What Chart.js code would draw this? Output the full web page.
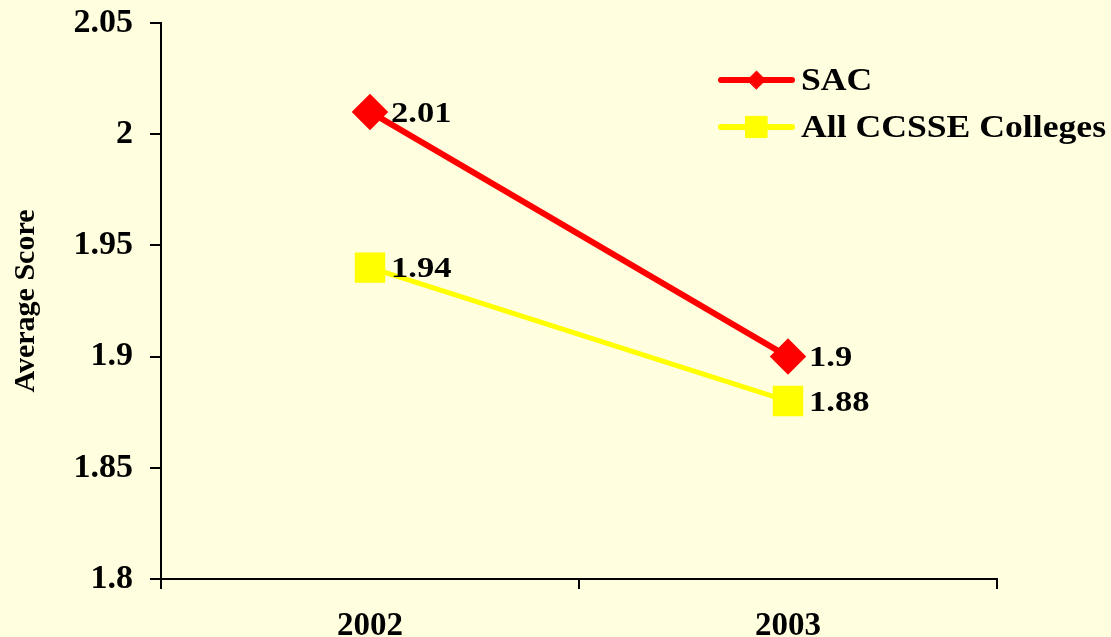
<!DOCTYPE html>
<html>
<head>
<meta charset="utf-8">
<script src="https://cdn.jsdelivr.net/npm/chart.js@4"></script>
<style>
    html, body { margin: 0; padding: 0; background: #FFFFE0; }
    #wrap { width: 1111px; height: 637px; }
</style>
</head>
<body>
<div id="wrap"><canvas id="scoreChart" width="1111" height="637"></canvas></div>
<script>
// chart data
const years = ['2002', '2003'];
const sacScores = [2.01, 1.9];
const ccsseScores = [1.94, 1.88];
const yTicks = [1.8, 1.85, 1.9, 1.95, 2, 2.05];

const serif = '"Liberation Serif", "Times New Roman", serif';
const stretch = 1.15; // the original text is a bit wide

function wideText(ctx, text, x, y) {
    ctx.save();
    ctx.translate(x, y);
    ctx.scale(stretch, 1);
    ctx.fillText(text, 0, 0);
    ctx.restore();
}

// value labels right of each point
const pointLabels = {
    id: 'pointLabels',
    afterDatasetsDraw(chart) {
        const ctx = chart.ctx;
        ctx.save();
        ctx.font = 'bold 30px ' + serif;
        ctx.fillStyle = '#000';
        ctx.textAlign = 'left';
        ctx.textBaseline = 'middle';
        chart.data.datasets.forEach((ds, i) => {
            chart.getDatasetMeta(i).data.forEach((pt, j) => {
                wideText(ctx, String(ds.data[j]), pt.x + 21, pt.y + 2);
            });
        });
        ctx.restore();
    }
};

// legend with line + marker like the original
const lineLegend = {
    id: 'lineLegend',
    afterDraw(chart) {
        const ctx = chart.ctx;
        const x0 = 721, x1 = 792, rows = [80, 127];
        ctx.save();
        chart.data.datasets.forEach((ds, i) => {
            const y = rows[i];
            ctx.strokeStyle = ds.borderColor;
            ctx.lineWidth = 6;
            ctx.lineCap = 'round';
            ctx.beginPath();
            ctx.moveTo(x0, y);
            ctx.lineTo(x1, y);
            ctx.stroke();
            ctx.fillStyle = ds.pointBackgroundColor;
            ctx.strokeStyle = ds.pointBorderColor;
            ctx.lineWidth = 1;
            Chart.helpers.drawPoint(ctx, {
                pointStyle: ds.pointStyle,
                radius: ds.legendRadius,
                rotation: 0,
                borderWidth: 1
            }, (x0 + x1) / 2, y);
            ctx.fillStyle = '#000';
            ctx.font = 'bold 31px ' + serif;
            ctx.textAlign = 'left';
            ctx.textBaseline = 'middle';
            wideText(ctx, ds.label, 801, y + 2);
        });
        ctx.restore();
    }
};

const bgFill = {
    id: 'bgFill',
    beforeDraw(chart) {
        const ctx = chart.ctx;
        ctx.save();
        ctx.fillStyle = '#FFFFE0';
        ctx.fillRect(0, 0, chart.width, chart.height);
        ctx.restore();
    }
};

const ctx = document.getElementById('scoreChart').getContext('2d');
const scoreChart = new Chart(ctx, {
    type: 'line',
    data: {
        labels: years,
        datasets: [{
            label: 'SAC',
            data: sacScores,
            borderColor: '#FF0000',
            borderWidth: 6,
            pointStyle: 'rectRot',
            pointRadius: 14,
            pointBackgroundColor: '#FF0000',
            pointBorderColor: '#FF0000',
            legendRadius: 9
        }, {
            label: 'All CCSSE Colleges',
            data: ccsseScores,
            borderColor: '#FFFF00',
            borderWidth: 5,
            pointStyle: 'rect',
            pointRadius: 18,
            pointBackgroundColor: '#FFFF00',
            pointBorderColor: '#FFFF00',
            legendRadius: 15
        }]
    },
    options: {
        responsive: false,
        animation: false,
        layout: { padding: { top: 21, right: 114, bottom: 0, left: 0 } },
        plugins: {
            legend: { display: false },
            tooltip: { enabled: false }
        },
        scales: {
            x: {
                offset: true,
                grid: {
                    offset: true,
                    drawOnChartArea: false,
                    drawTicks: true,
                    tickLength: 10,
                    color: '#000',
                    lineWidth: 2
                },
                border: { color: '#000', width: 2 },
                ticks: {
                    padding: 18,
                    color: '#000',
                    font: { family: serif, size: 33, weight: 'bold' }
                },
                afterFit(scale) { scale.height = 58; }
            },
            y: {
                min: 1.8,
                max: 2.05,
                afterBuildTicks(scale) {
                    scale.ticks = yTicks.map(v => ({ value: v }));
                },
                grid: {
                    drawOnChartArea: false,
                    drawTicks: true,
                    tickLength: 11,
                    color: '#000',
                    lineWidth: 2
                },
                border: { color: '#000', width: 2 },
                ticks: {
                    padding: 17,
                    color: '#000',
                    font: { family: serif, size: 34, weight: 'bold' },
                    callback: v => String(parseFloat(Number(v).toFixed(2)))
                },
                title: {
                    display: true,
                    text: 'Average Score',
                    color: '#000',
                    font: { family: serif, size: 30, weight: 'bold' },
                    padding: { top: 8, bottom: 0 }
                },
                afterFit(scale) {
                    scale.width = 161;
                    scale.paddingTop = 0;
                    scale.paddingBottom = 0;
                }
            }
        }
    },
    plugins: [bgFill, pointLabels, lineLegend]
});
</script>
</body>
</html>
